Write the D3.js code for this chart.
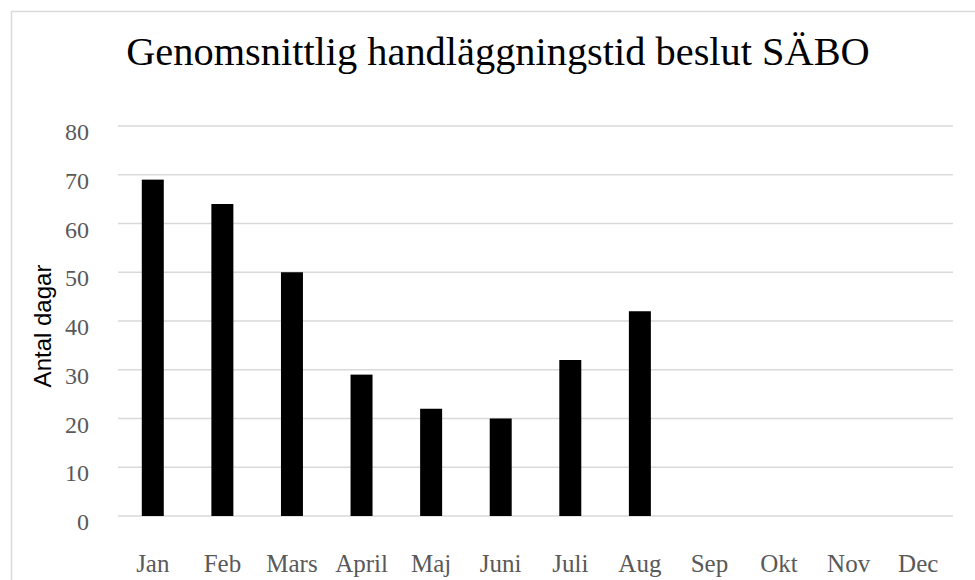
<!DOCTYPE html>
<html>
<head>
<meta charset="utf-8">
<script src="https://cdn.jsdelivr.net/npm/d3@7"></script>
<style>
  body { margin: 0; background: #ffffff; }
</style>
</head>
<body>
<div id="chart"></div>
<script>
var months = ["Jan", "Feb", "Mars", "April", "Maj", "Juni", "Juli", "Aug", "Sep", "Okt", "Nov", "Dec"];
var days = [69, 64, 50, 29, 22, 20, 32, 42, null, null, null, null];
var yTicks = [0, 10, 20, 30, 40, 50, 60, 70, 80];
var title = "Genomsnittlig handläggningstid beslut SÄBO";
var yLabel = "Antal dagar";

var svg = d3.select("#chart").append("svg").attr("width", 975).attr("height", 580);

svg.append("rect")
  .attr("x", 11.5).attr("y", 11.5)
  .attr("width", 1000).attr("height", 600)
  .attr("fill", "#ffffff")
  .attr("stroke", "#d9d9d9")
  .attr("stroke-width", 1.5);

var x = d3.scaleBand().domain(months).range([118, 953]).paddingInner(0.684).paddingOuter(0.342);
var y = d3.scaleLinear().domain([0, 80]).range([516, 126]);

// gridlines
svg.selectAll("line.grid")
  .data(yTicks)
  .enter().append("line")
  .attr("class", "grid")
  .attr("x1", 118).attr("x2", 953)
  .attr("y1", function(d){ return y(d); })
  .attr("y2", function(d){ return y(d); })
  .attr("stroke", "#d9d9d9")
  .attr("stroke-width", 1.5);

// y tick labels
svg.selectAll("text.ytick")
  .data(yTicks)
  .enter().append("text")
  .attr("class", "ytick")
  .attr("x", 89)
  .attr("y", function(d){ return y(d) + 14; })
  .attr("text-anchor", "end")
  .attr("font-family", "'Liberation Serif', serif")
  .attr("font-size", 24)
  .attr("fill", "#595959")
  .text(function(d){ return d; });

// bars
svg.selectAll("rect.bar")
  .data(months.map(function(m, i){ return {m: m, v: days[i]}; }).filter(function(d){ return d.v != null; }))
  .enter().append("rect")
  .attr("class", "bar")
  .attr("x", function(d){ return x(d.m); })
  .attr("width", x.bandwidth())
  .attr("y", function(d){ return y(d.v); })
  .attr("height", function(d){ return y(0) - y(d.v); })
  .attr("fill", "#000000");

// x labels
svg.selectAll("text.xtick")
  .data(months)
  .enter().append("text")
  .attr("class", "xtick")
  .attr("x", function(d){ return x(d) + x.bandwidth() / 2; })
  .attr("y", 572)
  .attr("text-anchor", "middle")
  .attr("font-family", "'Liberation Serif', serif")
  .attr("font-size", 25)
  .attr("fill", "#595959")
  .text(function(d){ return d; });

// y axis title
svg.append("text")
  .attr("transform", "translate(51,326) rotate(-90)")
  .attr("text-anchor", "middle")
  .attr("font-family", "'Liberation Sans', Arial, sans-serif")
  .attr("font-size", 24)
  .attr("fill", "#000000")
  .text(yLabel);

// chart title, fitted to the width seen in the reference
var t = svg.append("text")
  .attr("x", 498)
  .attr("y", 65)
  .attr("text-anchor", "middle")
  .attr("font-family", "'Liberation Serif', serif")
  .attr("font-size", 40)
  .attr("fill", "#000000")
  .text(title);
var w = t.node().getComputedTextLength();
t.attr("font-size", 40 * 744 / w);
</script>
</body>
</html>
